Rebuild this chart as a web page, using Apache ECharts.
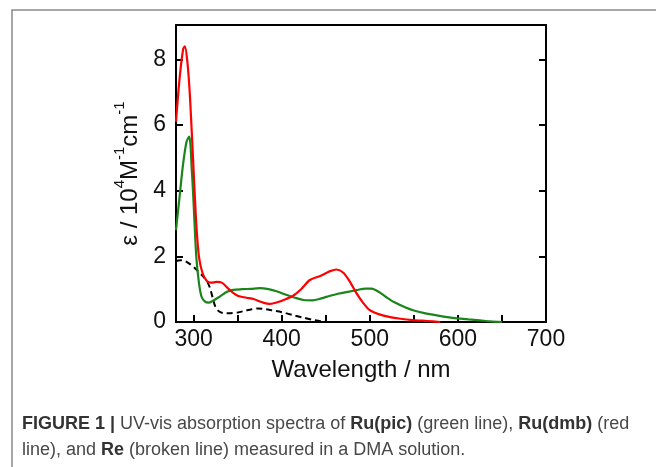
<!DOCTYPE html>
<html>
<head>
<meta charset="utf-8">
<script src="https://cdn.jsdelivr.net/npm/echarts@6/dist/echarts.min.js"></script>
<style>html,body{margin:0;padding:0;background:#fff;}#c{width:656px;height:467px;}</style>
</head>
<body>
<div id="c"></div>
<script>
// Wavelength (nm) and epsilon (10^4 M^-1 cm^-1)
var redWl   = [280,284,288,290,293,296,300,303,306,310,315,320,326,332,340,350,360,368,378,387,395,405,413,422,432,445,455,462,470,478,485,492,500,510,523,535,549,565,580];
var redEps  = [6.1,7.4,8.3,8.4,7.9,6.8,4.6,3.0,2.0,1.5,1.25,1.2,1.22,1.2,1.0,0.8,0.74,0.7,0.6,0.55,0.6,0.7,0.8,1.0,1.28,1.42,1.55,1.6,1.5,1.2,0.87,0.6,0.36,0.24,0.15,0.1,0.06,0.03,0.0];
var greenWl  = [280,284,288,292,295,298,300,303,306,309,313,317,322,330,338,345,355,365,375,385,395,405,415,425,435,445,455,465,475,485,495,502,510,518,528,540,550,562,576,590,600,612,625,637,650];
var greenEps = [2.8,3.8,4.8,5.5,5.65,4.6,3.6,2.0,1.2,0.77,0.62,0.59,0.65,0.78,0.92,0.98,1.0,1.01,1.03,1.0,0.93,0.83,0.74,0.67,0.66,0.72,0.8,0.87,0.92,0.97,1.02,1.02,0.92,0.77,0.6,0.45,0.35,0.27,0.2,0.14,0.11,0.08,0.05,0.02,0.0];
var reWl  = [280,285,290,295,300,305,311,316,319,322,325,329,334,342,350,358,366,373,380,390,400,413,425,436,445,455];
var reEps = [1.86,1.88,1.86,1.78,1.68,1.55,1.38,1.2,1.0,0.7,0.45,0.32,0.27,0.27,0.29,0.34,0.39,0.41,0.4,0.35,0.3,0.21,0.13,0.06,0.02,0.0];
var xTicks = [300,350,400,450,500,550,600,650,700];
var xLabels = [300,400,500,600,700];
var yTicks = [0,2,4,6,8];

function pairs(xs, ys){ return xs.map(function(x,i){ return [x, ys[i]]; }); }

var chart = echarts.init(document.getElementById('c'), null, {renderer:'canvas'});
var axisFont = 'Liberation Sans, Arial, sans-serif';
var capFont = 'Liberation Sans, Arial, sans-serif';
chart.setOption({
  animation: false,
  backgroundColor: '#fff',
  grid: {left:176, top:25, right:110, bottom:145, containLabel:false},
  xAxis: [{
    type:'value', min:280, max:700,
    axisLine:{show:true, onZero:false, lineStyle:{color:'#000', width:2}},
    axisTick:{show:true, inside:true, length:7, customValues:xTicks, lineStyle:{color:'#000', width:2}},
    axisLabel:{show:true, customValues:xLabels, color:'#111', fontSize:23, fontFamily:axisFont, margin:6},
    splitLine:{show:false},
    name:'Wavelength / nm', nameLocation:'middle', nameGap:36,
    nameTextStyle:{color:'#111', fontSize:24, fontFamily:axisFont}
  },{
    type:'value', min:280, max:700, position:'top',
    axisLine:{show:true, onZero:false, lineStyle:{color:'#000', width:2}},
    axisTick:{show:false}, axisLabel:{show:false}, splitLine:{show:false}
  }],
  yAxis: [{
    type:'value', min:0, max:9.05,
    axisLine:{show:true, onZero:false, lineStyle:{color:'#000', width:2}},
    axisTick:{show:true, inside:true, length:7, customValues:yTicks, lineStyle:{color:'#000', width:2}},
    axisLabel:{show:true, customValues:yTicks, color:'#111', fontSize:23, fontFamily:axisFont, margin:10},
    splitLine:{show:false},
    name:'{a|ε / 10}{s|4}{a|M}{s|-1}{a|cm}{s|-1}', nameLocation:'middle', nameGap:34, nameRotate:90,
    nameTextStyle:{
      color:'#111', fontFamily:axisFont,
      rich:{
        a:{fontSize:24, fontFamily:axisFont, color:'#111', lineHeight:30, verticalAlign:'bottom'},
        s:{fontSize:15, fontFamily:axisFont, color:'#111', lineHeight:30, verticalAlign:'top'}
      }
    }
  },{
    type:'value', min:0, max:9.05, position:'right',
    axisLine:{show:true, onZero:false, lineStyle:{color:'#000', width:2}},
    axisTick:{show:true, inside:true, length:7, customValues:yTicks, lineStyle:{color:'#000', width:2}},
    axisLabel:{show:false}, splitLine:{show:false}
  }],
  series: [
    {type:'line', data:pairs(greenWl, greenEps), smooth:0.3, symbol:'none', lineStyle:{color:'#1a861a', width:2.2}, z:3},
    {type:'line', data:pairs(redWl, redEps), smooth:0.3, symbol:'none', lineStyle:{color:'#ff0000', width:2.2}, z:4},
    {type:'line', data:pairs(reWl, reEps), smooth:0.3, symbol:'none', lineStyle:{color:'#000', width:2, type:[6,4]}, z:2}
  ],
  graphic: [
    {type:'rect', shape:{x:12, y:10, width:700, height:520}, style:{fill:'none', stroke:'#8a8a8a', lineWidth:1.5}, z:-1},
    {type:'text', left:22, top:415, style:{
      text:'{b|FIGURE 1 | }{n|UV-vis absorption spectra of }{b|Ru(pic)}{n| (green line), }{b|Ru(dmb)}{n| (red}',
      rich:{
        b:{fontSize:18, fontWeight:'bold', fontFamily:capFont, fill:'#333'},
        n:{fontSize:18, fontFamily:capFont, fill:'#484848'}
      }
    }},
    {type:'text', left:22, top:441, style:{
      text:'{n|line), and }{b|Re}{n| (broken line) measured in a DMA solution.}',
      rich:{
        b:{fontSize:18, fontWeight:'bold', fontFamily:capFont, fill:'#333'},
        n:{fontSize:18, fontFamily:capFont, fill:'#484848'}
      }
    }}
  ]
});
</script>
</body>
</html>
